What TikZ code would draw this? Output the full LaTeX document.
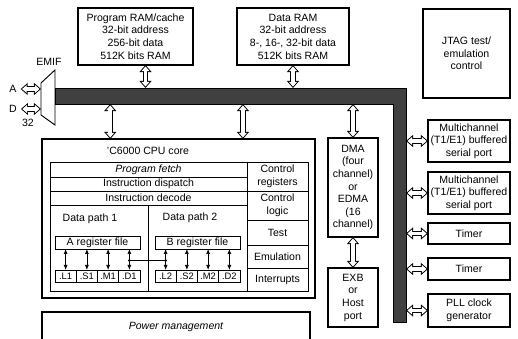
\documentclass[tikz,border=0pt]{standalone}
\usepackage{fontspec}
\setmainfont{Liberation Sans}
\usetikzlibrary{arrows.meta,positioning,calc}
\tikzset{
  membox/.style  ={draw,line width=0.9pt,align=center,inner sep=0pt,outer sep=0pt},
  cell/.style    ={draw,semithick,align=center,inner sep=0pt,outer sep=0pt},
  regfile/.style ={draw,semithick,inner sep=0pt,outer sep=0pt,minimum width=2.55cm,minimum height=0.39cm},
  fu/.style      ={draw,semithick,inner sep=0pt,outer sep=0pt,minimum width=0.6375cm,minimum height=0.36cm,
                   font=\fontsize{8}{9}\selectfont},
  busband/.style ={fill=black!75,inner sep=0pt,outer sep=0pt},
  busarrow/.style={line width=4.6pt,{Triangle[width=10pt,length=6pt]}-{Triangle[width=10pt,length=6pt]},
                   postaction={draw=white,line width=3pt,shorten <=1.25pt,shorten >=1.25pt,
                   {Triangle[width=6.6pt,length=3.95pt]}-{Triangle[width=6.6pt,length=3.95pt]}}},
  regarrow/.style={{Latex[length=1.5mm,width=1.2mm]}-{Latex[length=1.5mm,width=1.2mm]},semithick},
  joint/.style   ={circle,fill,inner sep=0pt,minimum size=2.6pt}
}

\begin{document}
\begin{tikzpicture}[x=0.03cm,y=-0.03cm,every node/.style={font=\fontsize{9}{10.8}\selectfont}]
    \useasboundingbox (0,0) rectangle (518,339);
    \clip (0,0) rectangle (518,339);
    \node[membox,minimum width=3.45cm,minimum height=1.71cm] (prog) at (135.5,36.5)
      {Program RAM/cache\\32-bit address\\256-bit data\\512K bits RAM};
    \node[membox,minimum width=3.36cm,minimum height=1.71cm] (dram) at (293,36.5)
      {Data RAM\\32-bit address\\8-, 16-, 32-bit data\\512K bits RAM};
    \node[membox,minimum width=2.61cm,minimum height=2.67cm] (jtag) at (466.5,53.5)
      {JTAG test/\\emulation\\control};
    \node[busband,minimum width=10.53cm,minimum height=0.48cm] (bush) at (230.5,96) {};
    \node[busband,minimum width=0.39cm,minimum height=7.02cm] (busv) at (399.5,205) {};
    \draw[thick] (bush.north west) -| (busv.south east) -- (busv.south west)
      -- (busv.west |- bush.south) -- (bush.south west) -- cycle;
    \coordinate (emifnw) at (41,83);
    \coordinate (emifne) at (55,70);
    \coordinate (emifse) at (55,125);
    \coordinate (emifsw) at (41,115);
    \coordinate (emifa) at (41,89);
    \coordinate (emifd) at (41,109);
    \draw[thick] (emifnw) -- (emifne) -- (emifse) -- (emifsw) -- cycle;
    \node (emiflbl) at (49,62) {EMIF};
    \node (albl) at (13,89) {A};
    \node (dlbl) at (13,109) {D};
    \node (wlbl) at (28,123) {32};
    \draw[busarrow] (albl) -- (emifa);
    \draw[busarrow] (dlbl) -- (emifd);
    \node[membox,minimum width=8.19cm,minimum height=4.77cm] (cpu) at (178.5,218.5) {};
    \node (cpulbl) at (148,151) {'C6000 CPU core};
    \node[cell,minimum width=5.91cm,minimum height=0.45cm,font=\fontsize{9}{10.8}\selectfont\itshape]
      (fetch) at (148.5,169.5) {Program fetch};
    \node[cell,minimum width=5.91cm,minimum height=0.42cm,below=0pt of fetch] (disp) {Instruction dispatch};
    \node[cell,minimum width=5.91cm,minimum height=0.42cm,below=0pt of disp] (dec) {Instruction decode};
    \node[cell,minimum width=2.94cm,minimum height=2.58cm,below right=0pt and 0pt of dec.south west] (dp1) {};
    \node[cell,minimum width=2.97cm,minimum height=2.58cm,right=0pt of dp1] (dp2) {};
    \node[cell,minimum width=1.83cm,minimum height=0.87cm,below right=0pt and 0pt of fetch.north east]
      (creg) {Control\\registers};
    \node[cell,minimum width=1.83cm,minimum height=0.87cm,below=0pt of creg] (clog) {Control\\logic};
    \node[cell,minimum width=1.83cm,minimum height=0.75cm,below=0pt of clog] (test) {Test};
    \node[cell,minimum width=1.83cm,minimum height=0.69cm,below=0pt of test] (emul) {Emulation};
    \node[cell,minimum width=1.83cm,minimum height=0.69cm,below=0pt of emul] (intr) {Interrupts};
    \node (dp1lbl) at (90,219) {Data path 1};
    \node (dp2lbl) at (190,218) {Data path 2};
    \node[regfile] (rega) at (97.5,242.5) {A register file};
    \node[regfile] (regb) at (197.5,242.5) {B register file};
    \node[fu,anchor=west] (ua1) at (55,276) {.L1};
    \node[fu,right=0pt of ua1] (ua2) {.S1};
    \node[fu,right=0pt of ua2] (ua3) {.M1};
    \node[fu,right=0pt of ua3] (ua4) {.D1};
    \node[fu,anchor=west] (ub1) at (155,276) {.L2};
    \node[fu,right=0pt of ub1] (ub2) {.S2};
    \node[fu,right=0pt of ub2] (ub3) {.M2};
    \node[fu,right=0pt of ub3] (ub4) {.D2};
    \draw[regarrow] (ua1.north) -- (ua1.north |- rega.south);
    \draw[regarrow] (ua2.north) -- (ua2.north |- rega.south);
    \draw[regarrow] (ua3.north) -- (ua3.north |- rega.south);
    \draw[regarrow] (ua4.north) -- (ua4.north |- rega.south);
    \draw[regarrow] (ub1.north) -- (ub1.north |- regb.south);
    \draw[regarrow] (ub2.north) -- (ub2.north |- regb.south);
    \draw[regarrow] (ub3.north) -- (ub3.north |- regb.south);
    \draw[regarrow] (ub4.north) -- (ub4.north |- regb.south);
    \coordinate (xa) at ($(ua4.north)!.45!(ua4.north |- rega.south)$);
    \coordinate (xb) at ($(ub1.north)!.45!(ub1.north |- regb.south)$);
    \draw[semithick] (xa) -- (xb);
    \node[joint] (ja) at (xa) {};
    \node[joint] (jb) at (xb) {};
    \node[membox,minimum width=8.04cm,minimum height=0.9cm,font=\fontsize{9}{10.8}\selectfont\itshape]
      (pwr) at (176,327) {Power management};
    \node[membox,minimum width=1.5cm,minimum height=2.97cm] (dma) at (353,187.5)
      {DMA\\(four\\channel)\\or\\EDMA\\(16\\channel)};
    \node[membox,minimum width=1.5cm,minimum height=1.77cm] (exb) at (353,297.5) {EXB\\or\\Host\\port};
    \node[membox,minimum width=2.46cm,minimum height=1.26cm] (mcb1) at (469,141)
      {Multichannel\\(T1/E1) buffered\\serial port};
    \node[membox,minimum width=2.46cm,minimum height=1.26cm] (mcb2) at (469,193)
      {Multichannel\\(T1/E1) buffered\\serial port};
    \node[membox,minimum width=2.46cm,minimum height=0.63cm] (tim1) at (469,233.5) {Timer};
    \node[membox,minimum width=2.46cm,minimum height=0.66cm] (tim2) at (469,269) {Timer};
    \node[membox,minimum width=2.46cm,minimum height=0.99cm] (pll) at (469,310.5) {PLL clock\\generator};
    \coordinate (cpuin1) at ($(cpu.north west)!.25!(cpu.north east)$);
    \coordinate (cpuin2) at ($(cpu.north west)!.736!(cpu.north east)$);
    \draw[busarrow] ([xshift=0.3cm]prog.south) -- ([xshift=0.3cm]prog.south |- bush.north);
    \draw[busarrow] (dram.south) -- (dram.south |- bush.north);
    \draw[busarrow] (cpuin1 |- bush.south) -- (cpuin1);
    \draw[busarrow] (cpuin2 |- bush.south) -- (cpuin2);
    \draw[busarrow] (dma.north |- bush.south) -- (dma.north);
    \draw[busarrow] (dma.south) -- (exb.north);
    \draw[busarrow] (busv.east |- mcb1.west) -- (mcb1.west);
    \draw[busarrow] (busv.east |- mcb2.west) -- (mcb2.west);
    \draw[busarrow] (busv.east |- tim1.west) -- (tim1.west);
    \draw[busarrow] (busv.east |- tim2.west) -- (tim2.west);
    \draw[busarrow] (busv.east |- pll.west) -- (pll.west);
  \end{tikzpicture}
\end{document}
